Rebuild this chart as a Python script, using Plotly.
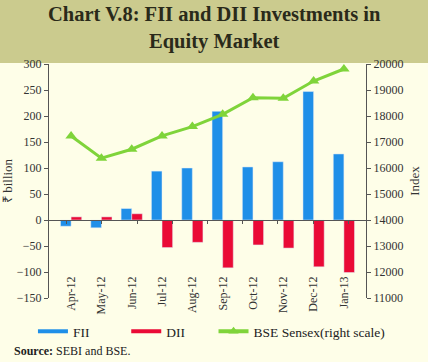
import plotly.graph_objects as go

months = ["Apr-12", "May-12", "Jun-12", "Jul-12", "Aug-12", "Sep-12",
          "Oct-12", "Nov-12", "Dec-12", "Jan-13"]
fii = [-12, -15, 22, 94, 100, 209, 102, 112, 247, 127]
dii = [6, 6, 12, -53, -43, -92, -48, -54, -90, -101]
sensex = [17234, 16376, 16722, 17234, 17593, 18064, 18705, 18680, 19346, 19808]

left_ticks = [300, 250, 200, 150, 100, 50, 0, -50, -100, -150]
right_ticks = [20000, 19000, 18000, 17000, 16000, 15000, 14000, 13000, 12000, 11000]

BLUE = "#1f8fe8"
RED = "#ea0a36"
GREEN = "#7fd43a"
BG = "#fefee8"
TITLE_BG = "#cbcb8e"
SERIF = "Liberation Serif, Times New Roman, serif"

PLOT_H = 234.0
PLOT_W = 316.0


def py(pixel_y):
    # paper y from pixel row (plot area bottom at 298 px)
    return (298 - pixel_y) / PLOT_H


def px(pixel_x):
    return (pixel_x - 49) / PLOT_W


fig = go.Figure()
fig.add_trace(go.Bar(x=months, y=fii, name="FII", marker_color=BLUE,
                     showlegend=False))
fig.add_trace(go.Bar(x=months, y=dii, name="DII", marker_color=RED,
                     showlegend=False))
fig.add_trace(go.Scatter(x=months, y=sensex, name="BSE Sensex(right scale)",
                         yaxis="y2", mode="lines+markers",
                         line=dict(color=GREEN, width=3),
                         marker=dict(symbol="triangle-up", size=10, color=GREEN),
                         showlegend=False))
# legend entries (line-style keys), one legend box each
fig.add_trace(go.Scatter(x=[None], y=[None], name="FII", mode="lines",
                         line=dict(color=BLUE, width=4), legend="legend"))
fig.add_trace(go.Scatter(x=[None], y=[None], name="DII", mode="lines",
                         line=dict(color=RED, width=4), legend="legend2"))
fig.add_trace(go.Scatter(x=[None], y=[None], name="BSE Sensex(right scale)",
                         mode="lines+markers",
                         line=dict(color=GREEN, width=4),
                         marker=dict(symbol="triangle-up", size=9, color=GREEN),
                         legend="legend3"))
# invisible trace to carry the zero-line category axis
fig.add_trace(go.Scatter(x=months, y=[0] * len(months), xaxis="x2",
                         mode="lines", line=dict(width=0), hoverinfo="skip",
                         showlegend=False))

legend_common = dict(orientation="h", xanchor="left", y=py(316),
                     yanchor="top", font=dict(size=13.5, color="#222222"),
                     bgcolor="rgba(0,0,0,0)", itemwidth=30)

fig.update_layout(
    width=428, height=362,
    margin=dict(l=49, r=62, t=64, b=64, autoexpand=False),
    paper_bgcolor=BG, plot_bgcolor=BG,
    font=dict(family=SERIF, size=12, color="#333333"),
    barmode="group", bargap=0.3, bargroupgap=0,
    xaxis=dict(type="category", showline=False, ticks="", tickangle=-90,
               tickfont=dict(size=12, color="#333333"), showgrid=False,
               zeroline=False, automargin=False, anchor="free",
               position=py(273), side="bottom"),
    xaxis2=dict(type="category", overlaying="x", anchor="free",
                position=1 / 3, side="bottom", showline=True,
                linecolor="#555555", linewidth=1, ticks="outside",
                tickson="boundaries", ticklen=3, tickcolor="#555555",
                showticklabels=False, showgrid=False, zeroline=False,
                automargin=False),
    yaxis=dict(range=[-150, 300], tickvals=left_ticks, showgrid=False,
               zeroline=False, showline=True, linecolor="#555555",
               ticks="outside", ticklen=4, tickcolor="#555555",
               automargin=False,
               title=dict(text="₹ billion", font=dict(size=13), standoff=7)),
    yaxis2=dict(range=[11000, 20000], tickvals=right_ticks, overlaying="y",
                side="right", showgrid=False, zeroline=False, showline=True,
                linecolor="#555555", ticks="outside", ticklen=4,
                tickcolor="#555555", tickformat="d", automargin=False,
                title=dict(text="Index", font=dict(size=13), standoff=7)),
    legend=dict(legend_common, x=px(33)),
    legend2=dict(legend_common, x=px(126)),
    legend3=dict(legend_common, x=px(213)),
    shapes=[dict(type="rect", xref="paper", yref="paper",
                 x0=-0.2, x1=1.25, y0=py(63), y1=py(-5), fillcolor=TITLE_BG,
                 line=dict(width=0), layer="below")],
    annotations=[
        dict(text="<b>Chart V.8: FII and DII Investments in<br>Equity Market</b>",
             xref="paper", yref="paper", x=0.522, y=py(1), xanchor="center",
             yanchor="top", showarrow=False,
             font=dict(family=SERIF, size=20.5, color="#2a2a1a")),
        dict(text="<b>Source:</b> SEBI and BSE.", xref="paper", yref="paper",
             x=px(12), y=py(342), xanchor="left", yanchor="top",
             showarrow=False,
             font=dict(family=SERIF, size=12, color="#222222")),
    ],
)

fig.write_html("out.html", config={"displayModeBar": False},
               post_script="document.body.style.margin='0';"
                           "document.body.style.overflow='hidden';")
